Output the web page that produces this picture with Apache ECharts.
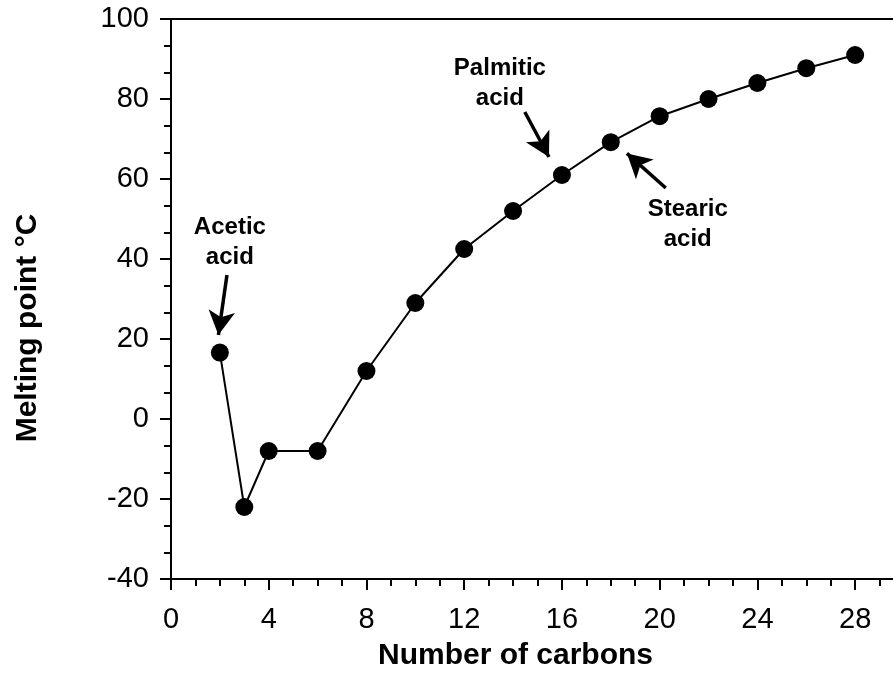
<!DOCTYPE html>
<html>
<head>
<meta charset="utf-8">
<script src="https://cdn.jsdelivr.net/npm/echarts@6/dist/echarts.min.js"></script>
<style>
html,body{margin:0;padding:0;background:#fff;overflow:hidden;width:893px;height:677px;}
#chart{width:904px;height:677px;}
</style>
</head>
<body>
<div id="chart"></div>
<script>
// Data
const carbons = [2, 3, 4, 6, 8, 10, 12, 14, 16, 18, 20, 22, 24, 26, 28];
const meltingPoints = [16.6, -22, -8, -8, 12, 29, 42.5, 52, 61, 69.2, 75.7, 80, 84, 87.7, 91];
const xTickLabels = ['0', '4', '8', '12', '16', '20', '24', '28'];
const yTickLabels = ['-40', '-20', '0', '20', '40', '60', '80', '100'];
const annotationTexts = ['Acetic\nacid', 'Palmitic\nacid', 'Stearic\nacid'];
const annotationAt = [[2.41, 44.1], [13.46, 84.0], [21.15, 48.6]];
const arrowFrom = [[2.29, 36], [14.48, 76.75], [20.25, 57.75]];
const arrowTo = [[1.94, 21], [15.47, 65.5], [18.66, 66.4]];

const FONT = '"Liberation Sans", Arial, Helvetica, sans-serif';
const chart = echarts.init(document.getElementById('chart'), null, {renderer: 'canvas'});

const points = carbons.map((c, i) => [c, meltingPoints[i]]);

const option = {
  animation: false,
  backgroundColor: '#ffffff',
  grid: {left: 171, top: 19, right: 0, bottom: 98, containLabel: false},
  xAxis: [{
    type: 'value', min: 0, max: 30, interval: 4, position: 'bottom',
    name: 'Number of carbons', nameLocation: 'middle', nameGap: 62,
    nameTextStyle: {fontFamily: FONT, fontSize: 30, fontWeight: 'bold', color: '#000', padding: [0, 44, 0, 0]},
    axisLine: {show: true, onZero: false, lineStyle: {color: '#000', width: 2}},
    axisTick: {show: true, length: 11, lineStyle: {color: '#000', width: 2}},
    minorTick: {show: true, splitNumber: 4, length: 7, lineStyle: {color: '#000', width: 2}},
    splitLine: {show: false},
    axisLabel: {
      fontFamily: FONT, fontSize: 29, color: '#000', margin: 26, showMaxLabel: false,
      formatter: v => xTickLabels.includes(String(v)) ? String(v) : ''
    }
  }, {
    type: 'value', min: 0, max: 30, position: 'top',
    axisLine: {show: true, onZero: false, lineStyle: {color: '#000', width: 2}},
    axisTick: {show: false}, axisLabel: {show: false}, splitLine: {show: false}
  }],
  yAxis: {
    type: 'value', min: -40, max: 100, interval: 20,
    name: 'Melting point °C', nameLocation: 'middle', nameGap: 128, nameRotate: 90,
    nameTextStyle: {fontFamily: FONT, fontSize: 30, fontWeight: 'bold', color: '#000', padding: [0, 58, 0, 0]},
    axisLine: {show: true, onZero: false, lineStyle: {color: '#000', width: 2}},
    axisTick: {show: true, length: 11, lineStyle: {color: '#000', width: 2}},
    minorTick: {show: true, splitNumber: 3, length: 7, lineStyle: {color: '#000', width: 2}},
    splitLine: {show: false},
    axisLabel: {
      fontFamily: FONT, fontSize: 29, color: '#000', margin: 22,
      formatter: v => yTickLabels.includes(String(v)) ? String(v) : ''
    }
  },
  series: [{
    type: 'line',
    data: points,
    symbol: 'circle', symbolSize: 18,
    itemStyle: {color: '#000'},
    lineStyle: {color: '#000', width: 2},
    emphasis: {disabled: true},
    z: 3,
    markPoint: {
      silent: true,
      symbol: 'circle', symbolSize: 0,
      label: {
        show: true, position: 'inside', align: 'center', verticalAlign: 'middle',
        fontFamily: FONT, fontSize: 24, fontWeight: 'bold', color: '#000', lineHeight: 30,
        formatter: p => p.name
      },
      data: annotationTexts.map((t, i) => ({name: t, coord: annotationAt[i]}))
    },
    markLine: {
      silent: true,
      symbol: ['none', 'arrow'], symbolSize: [20, 24],
      label: {show: false},
      lineStyle: {color: '#000', width: 3.5, type: 'solid'},
      emphasis: {disabled: true},
      data: arrowFrom.map((f, i) => [{coord: f}, {coord: arrowTo[i]}])
    }
  }]
};
chart.setOption(option);
</script>
</body>
</html>
